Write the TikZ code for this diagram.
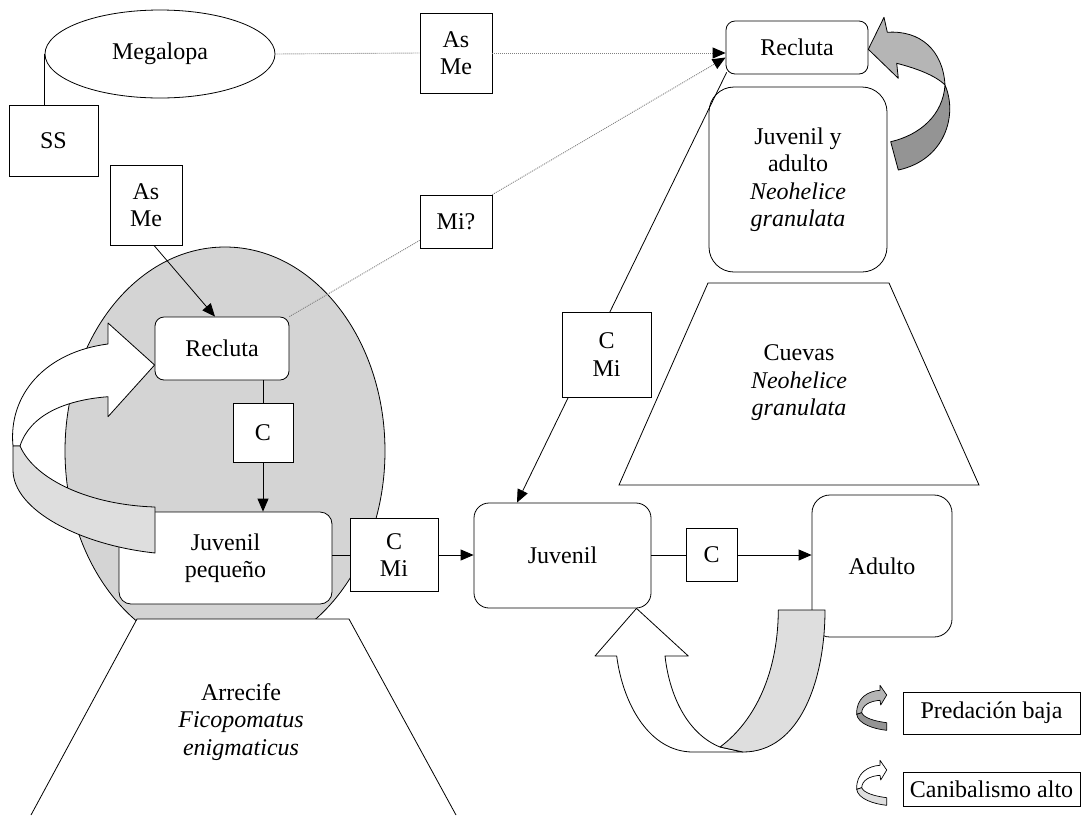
\documentclass[tikz,border=0pt]{standalone}
\usepackage{fontspec}
\setmainfont{Liberation Serif}
\usetikzlibrary{arrows.meta,shapes.geometric}
\definecolor{ellgray}{gray}{0.83}
\definecolor{riblight}{gray}{0.87}
\definecolor{predlight}{gray}{0.71}
\definecolor{preddark}{gray}{0.58}
\tikzset{
  pics/legarrow/.style 2 args={code={
    \path[draw,line width=0.7pt,line join=round,fill=#1]
      (30.7,9) -- (24,-0.7) -- (24,4.3) .. controls (12,5) and (0,12) .. (0.7,28.3)
      -- (5.7,26.7) .. controls (6,19) and (14,15) .. (24,14.3) -- (24.7,19) -- cycle;
    \path[draw,line width=0.7pt,line join=round,fill=#2]
      (0.7,28.3) .. controls (2,38) and (18,43) .. (30.7,44.3) -- (30.7,36.7)
      .. controls (18,35) and (8,32) .. (5.7,26.7) -- cycle;
  }}
}
\begin{document}
\begin{tikzpicture}[x=1pt,y=-1pt,
  every node/.style={font=\fontsize{24}{27.5}\selectfont},
  bx/.style={draw,line width=0.8pt,fill=white,align=center,inner sep=0pt},
  rbx/.style={bx,rounded corners=#1}, rbx/.default=9pt,
  ln/.style={line width=0.8pt},
  tip/.style={-{Triangle[length=13pt,width=11pt,black]}},
  dotl/.style={draw=gray,line width=0.9pt,dash pattern=on 1pt off 1pt},
  rib/.style={draw,line width=0.8pt,line join=round}]
\useasboundingbox (0,0) rectangle (1082,815);
% grey zone around the reef
\draw[ln,fill=ellgray] (225,451) ellipse [x radius=160pt, y radius=204pt];
% reef trapezoid
\path[fill=white] (31,815) -- (137,619) -- (349,619) -- (456,815) -- cycle;
\draw[ln] (31,815) -- (137,619) -- (349,619) -- (456,815);
\node[align=center] (reeftxt) at (241,722) {Arrecife\\\textit{Ficopomatus}\\\textit{enigmaticus}};
% burrows trapezoid
\draw[ln,fill=white] (619,485) -- (708,283) -- (889,283) -- (979,485) -- cycle;
\node[align=center] (cuevtxt) at (799,383) {Cuevas\\\textit{Neohelice}\\\textit{granulata}};
% nodes
\node[bx,ellipse,minimum width=230pt,minimum height=88pt] (mega) at (160,54) {Megalopa};
\node[bx,minimum width=89pt,minimum height=71pt] (ss) at (53.5,140.5) {SS};
\node[bx,minimum width=72pt,minimum height=80pt] (asmeA) at (146,205) {As\\Me};
\node[rbx,minimum width=134pt,minimum height=63pt] (recA) at (222,348.5) {Recluta};
\node[bx,minimum width=60pt,minimum height=59pt] (cA) at (263,432.5) {C};
\node[rbx=12pt,minimum width=213pt,minimum height=92pt] (jp) at (225.5,558) {Juvenil\\pequeño};
\node[bx,minimum width=88pt,minimum height=73pt] (cmiA) at (394,555) {C\\Mi};
\node[rbx=15pt,minimum width=177pt,minimum height=105pt] (juv) at (562.5,555.5) {Juvenil};
\node[bx,minimum width=51pt,minimum height=53pt] (cB) at (711.5,555) {C};
\node[rbx=18pt,minimum width=140pt,minimum height=142pt] (adulto) at (882,566) {Adulto};
\node[rbx,minimum width=142pt,minimum height=53pt] (recB) at (797,47.5) {Recluta};
\node[rbx=25pt,minimum width=178pt,minimum height=185pt] (jya) at (798,179.5) {Juvenil y\\adulto\\\textit{Neohelice}\\\textit{granulata}};
\node[bx,minimum width=72pt,minimum height=80pt] (asmeB) at (456,53) {As\\Me};
\node[bx,minimum width=72pt,minimum height=53pt] (mi) at (456,221.5) {Mi?};
\node[bx,minimum width=177pt,minimum height=42pt] (legA) at (991.5,713) {Predación baja};
\node[bx,minimum width=177pt,minimum height=34pt] (legB) at (991.5,789) {Canibalismo alto};
% connectors
\draw[ln] (mega.west) -- (mega.west |- ss.north);
\draw[ln,tip] ([xshift=8pt]asmeA.south) -- ([xshift=-7pt]recA.north);
\draw[ln] (cA.north) -- (cA.north |- recA.south);
\draw[ln,tip] (cA.south) -- (cA.south |- jp.north);
\draw[ln] (jp.east |- cmiA.west) -- (cmiA.west);
\draw[ln,tip] (cmiA.east) -- (cmiA.east -| juv.west);
\draw[ln] (juv.east |- cB.west) -- (cB.west);
\draw[ln,tip] (cB.east) -- (cB.east -| adulto.west);
\draw[dotl] (mega.east) -- (asmeB.west);
\draw[dotl,tip] (asmeB.east) -- (asmeB.east -| recB.west);
\draw[dotl] (recA.north east) -- ([yshift=8pt]mi.south west);
\draw[dotl,tip] (mi.north east) -- ([yshift=-10pt]recB.west);
\draw[ln,tip] ([xshift=1pt,yshift=2pt]recB.south west) -- ([xshift=-45.5pt]juv.north);
\node[bx,minimum width=89pt,minimum height=85pt] (cmiB) at (606.5,354.5) {C\\Mi};
% left cannibalism ribbon (recluta <- juvenil pequeno)
\path[rib,fill=white] ([yshift=-16.5pt]recA.west) -- (108,416.7) -- (108,396.7)
  .. controls (65,400) and (30,415) .. (20,446) -- (13,446)
  .. controls (8,395) and (45,352) .. (108,344) -- (108,323) -- cycle;
\path[rib,fill=riblight] (20,446) .. controls (35,480) and (90,505) .. (155,507)
  -- (155,553) .. controls (80,545) and (13,510) .. (13,470) -- (13,446) -- cycle;
% bottom cannibalism ribbon (adulto -> juvenil)
\path[rib,fill=white] ([xshift=74pt]juv.south) -- (595,656) -- (616.7,656)
  .. controls (623,705) and (650,752) .. (693,752) -- (743,752) -- (720,747)
  .. controls (690,735) and (670,700) .. (665,656) -- (688.3,656) -- cycle;
\path[rib,fill=riblight] (720,747) .. controls (750,725) and (778,680) .. (778.3,610)
  -- (825,610) .. controls (825,680) and (800,752) .. (743,752) -- cycle;
% top right predation ribbon
\path[rib,fill=predlight] (868.3,49.3) -- (884,17.3) -- (887.3,32.3)
  .. controls (920,30) and (943,50) .. (945,85)
  .. controls (935,75) and (915,68) .. (896.7,63.3) -- (898.3,78.3) -- cycle;
\path[rib,fill=preddark] (945,85) .. controls (958,115) and (945,160) .. (898.3,170)
  -- (890.7,141.7) .. controls (920,135) and (943,115) .. (945,85) -- cycle;
% legend icons
\pic at (856,686) {legarrow={predlight}{preddark}};
\pic at (856,761) {legarrow={white}{riblight}};
\end{tikzpicture}
\end{document}
